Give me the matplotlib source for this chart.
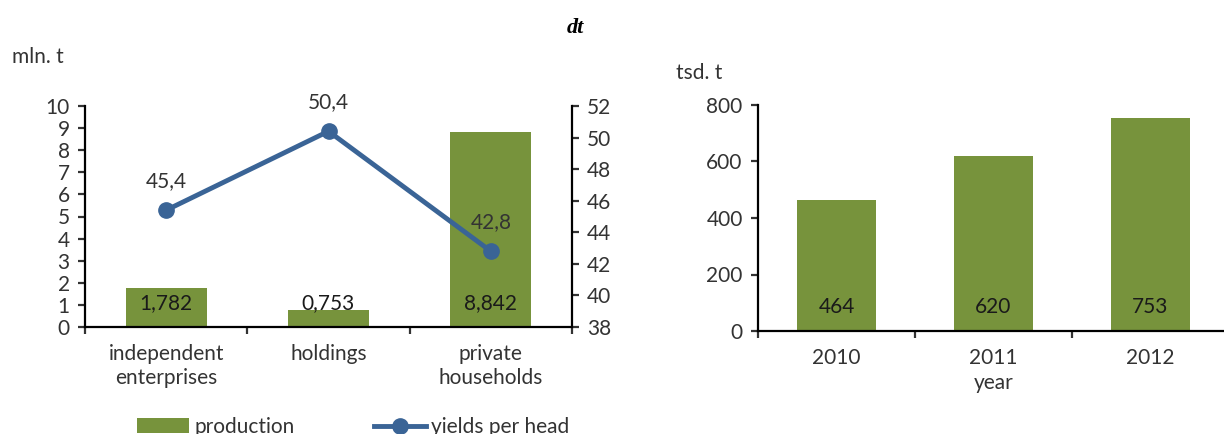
import matplotlib.pyplot as plt
from matplotlib.lines import Line2D
from matplotlib.patches import Patch

# production by farm type (mln. t) and yields per head (dt)
farm_types = ['independent\nenterprises', 'holdings', 'private\nhouseholds']
production = [1.782, 0.753, 8.842]
yields = [45.4, 50.4, 42.8]

# production by year (tsd. t)
years = ['2010', '2011', '2012']
year_production = [464, 620, 753]

GREEN = '#77933C'
BLUE = '#3A6496'
TEXT = '#333333'
FS = 15

plt.rcParams['font.family'] = ['Lato', 'DejaVu Sans']
plt.rcParams['font.size'] = FS
plt.rcParams['text.color'] = TEXT
plt.rcParams['axes.labelcolor'] = TEXT
plt.rcParams['xtick.color'] = TEXT
plt.rcParams['ytick.color'] = TEXT

W, H = 1224, 434
fig = plt.figure(figsize=(W / 100, H / 100), dpi=100)


def px_axes(x0, x1, ytop, ybot):
    return fig.add_axes([x0 / W, 1 - ybot / H, (x1 - x0) / W, (ybot - ytop) / H])


def style_axis(ax):
    for s in ['top', 'right']:
        ax.spines[s].set_visible(False)
    for s in ['left', 'bottom']:
        ax.spines[s].set_linewidth(1.6)
        ax.spines[s].set_color('black')
    ax.tick_params(axis='both', which='major', direction='out', length=5,
                   width=1.6, labelsize=FS)


def comma(v, fmt):
    return format(v, fmt).replace('.', ',')


# ---- left chart: bars + line on twin axis
ax1 = px_axes(85, 572, 106, 327)
x = list(range(len(farm_types)))
ax1.bar(x, production, width=0.5, color=GREEN, zorder=2)
ax1.set_xlim(-0.5, 2.5)
ax1.set_ylim(0, 10)
ax1.set_yticks(range(0, 11))
style_axis(ax1)
ax1.set_xticks([-0.5, 0.5, 1.5, 2.5])
ax1.set_xticklabels([])
ax1.set_xticks(x, minor=True)
ax1.set_xticklabels(farm_types, minor=True, linespacing=1.3)
ax1.tick_params(axis='x', which='minor', length=0, pad=12)
ax1.tick_params(axis='y', pad=6)

for xi, v in zip(x, production):
    ax1.annotate(comma(v, '.3f'), (xi, 0), xytext=(0, 17), textcoords='offset points',
                 ha='center', va='center', fontsize=FS, color='#1a1a1a', zorder=5)

ax2 = ax1.twinx()
ax2.plot(x, yields, color=BLUE, lw=3.5, marker='o', ms=11, zorder=3)
ax2.set_ylim(38, 52)
ax2.set_yticks(range(38, 53, 2))
for s in ['top', 'left', 'bottom']:
    ax2.spines[s].set_visible(False)
ax2.spines['right'].set_linewidth(1.6)
ax2.tick_params(axis='y', direction='out', length=5, width=1.6, labelsize=FS, pad=6)
for xi, v in zip(x, yields):
    ax2.annotate(comma(v, '.1f'), (xi, v), xytext=(0, 21), textcoords='offset points',
                 ha='center', va='center', fontsize=FS)

fig.text(12 / W, 1 - 57 / H, 'mln. t', ha='left', va='center', fontsize=FS)
fig.text(575 / W, 1 - 28 / H, 'dt', ha='center', va='center', fontsize=16,
         family='Liberation Serif', style='italic', weight='bold', color='black')

handles = [Patch(facecolor=GREEN, edgecolor='none', label='production'),
           Line2D([], [], color=BLUE, lw=3.5, marker='o', ms=11, label='yields per head')]
fig.legend(handles=handles, loc='center left', bbox_to_anchor=(137 / W, 1 - 427 / H),
           ncol=2, frameon=False, borderpad=0, borderaxespad=0, handlelength=2.5,
           handletextpad=0.25, columnspacing=3.8, fontsize=FS)

# ---- right chart: production by year
ax3 = px_axes(758, 1229, 105, 331)
xy = list(range(len(years)))
ax3.bar(xy, year_production, width=0.5, color=GREEN, zorder=2)
ax3.set_xlim(-0.5, 2.5)
ax3.set_ylim(0, 800)
ax3.set_yticks(range(0, 801, 200))
style_axis(ax3)
ax3.set_xticks([-0.5, 0.5, 1.5, 2.5])
ax3.set_xticklabels([])
ax3.set_xticks(xy, minor=True)
ax3.set_xticklabels(years, minor=True)
ax3.tick_params(axis='x', which='minor', length=0, pad=12)
ax3.tick_params(axis='y', pad=6)
ax3.set_xlabel('year', fontsize=FS, labelpad=4)
for xi, v in zip(xy, year_production):
    ax3.annotate(str(v), (xi, 0), xytext=(0, 17), textcoords='offset points',
                 ha='center', va='center', fontsize=FS, color='#1a1a1a', zorder=5)

fig.text(676 / W, 1 - 73 / H, 'tsd. t', ha='left', va='center', fontsize=FS)

fig.savefig('out.png', dpi=100)
